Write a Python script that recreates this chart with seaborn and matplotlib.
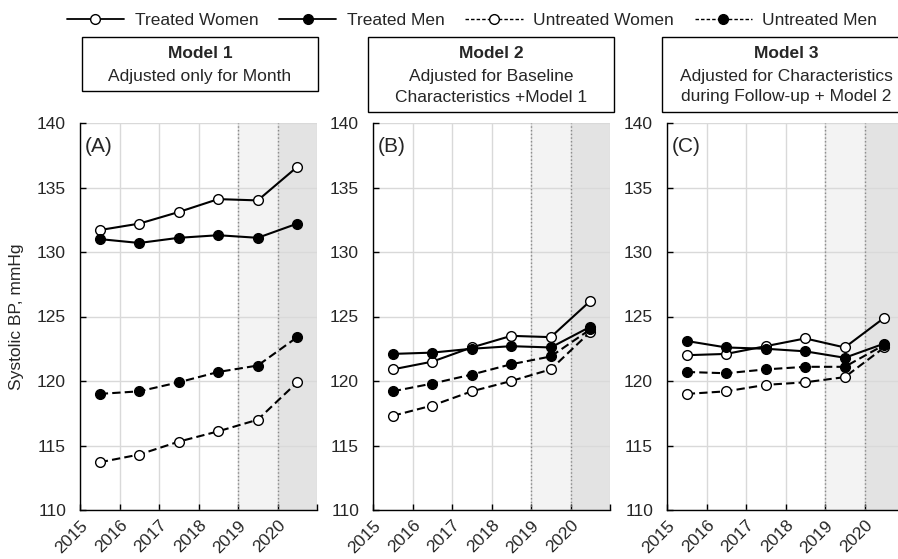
import matplotlib
matplotlib.use("Agg")
import matplotlib.pyplot as plt
from matplotlib.lines import Line2D
from matplotlib.patches import Rectangle
import seaborn as sns
import pandas as pd

# ---------------- data ----------------
x_mid = [2015.5, 2016.5, 2017.5, 2018.5, 2019.5, 2020.5]
year_ticks = [2015, 2016, 2017, 2018, 2019, 2020, 2021]
year_labels = ["2015", "2016", "2017", "2018", "2019", "2020", ""]

series_names = ["Treated Women", "Treated Men", "Untreated Women", "Untreated Men"]

m1_treated_women = [131.7, 132.2, 133.1, 134.1, 134.0, 136.6]
m1_treated_men = [131.0, 130.7, 131.1, 131.3, 131.1, 132.2]
m1_untreated_women = [113.7, 114.3, 115.3, 116.1, 117.0, 119.9]
m1_untreated_men = [119.0, 119.2, 119.9, 120.7, 121.2, 123.4]

m2_treated_women = [120.9, 121.5, 122.6, 123.5, 123.4, 126.2]
m2_treated_men = [122.1, 122.2, 122.5, 122.7, 122.6, 124.2]
m2_untreated_women = [117.3, 118.1, 119.2, 120.0, 120.9, 123.8]
m2_untreated_men = [119.2, 119.8, 120.5, 121.3, 121.9, 124.0]

m3_treated_women = [122.0, 122.1, 122.7, 123.3, 122.6, 124.9]
m3_treated_men = [123.1, 122.6, 122.5, 122.3, 121.8, 122.9]
m3_untreated_women = [119.0, 119.2, 119.7, 119.9, 120.3, 122.6]
m3_untreated_men = [120.7, 120.6, 120.9, 121.1, 121.1, 122.8]

panel_letters = ["(A)", "(B)", "(C)"]
box_titles = ["Model 1", "Model 2", "Model 3"]
box_subtitles = [
    "Adjusted only for Month",
    "Adjusted for Baseline\nCharacteristics +Model 1",
    "Adjusted for Characteristics\nduring Follow-up + Model 2",
]
y_label = "Systolic BP, mmHg"

models = [
    [m1_treated_women, m1_treated_men, m1_untreated_women, m1_untreated_men],
    [m2_treated_women, m2_treated_men, m2_untreated_women, m2_untreated_men],
    [m3_treated_women, m3_treated_men, m3_untreated_women, m3_untreated_men],
]

# ---------------- style ----------------
sns.set_style("white")
plt.rcParams["font.family"] = ["Liberation Sans", "DejaVu Sans"]
FS = 12.5

W, H = 898, 559
fig = plt.figure(figsize=(W / 100, H / 100), dpi=100)


def fx(px):
    return px / W


def fy(py):
    return 1 - py / H


axes_left_px = [80, 373, 667]
ax_w = 237 / W
ax_b = fy(510)
ax_h = (510 - 123) / H

face = {"Treated Women": "white", "Treated Men": "black",
        "Untreated Women": "white", "Untreated Men": "black"}
lstyle = {"Treated Women": "-", "Treated Men": "-",
          "Untreated Women": (0, (4, 2)), "Untreated Men": (0, (4, 2))}

for i, lp in enumerate(axes_left_px):
    ax = fig.add_axes([fx(lp), ax_b, ax_w, ax_h])
    ax.axvspan(2019, 2020, color="#f3f3f3", zorder=0, lw=0)
    ax.axvspan(2020, 2021, color="#e3e3e3", zorder=0, lw=0)
    ax.set_axisbelow(True)
    ax.grid(True, color="#d9d9d9", lw=1)
    for xv in (2019, 2020):
        ax.axvline(xv, color="#888888", ls=":", lw=1, zorder=1)
    for name, vals in zip(series_names, models[i]):
        df = pd.DataFrame({"x": x_mid, "y": vals})
        sns.lineplot(data=df, x="x", y="y", ax=ax, color="black",
                     linestyle=lstyle[name], lw=1.5, marker="o",
                     markersize=7, markerfacecolor=face[name],
                     markeredgecolor="black", markeredgewidth=1,
                     zorder=3)
    ax.set_xlim(2015, 2021)
    ax.set_ylim(110, 140)
    ax.set_xticks(year_ticks)
    ax.set_xticklabels(year_labels, rotation=45, ha="right",
                       rotation_mode="anchor", fontsize=FS)
    ax.set_yticks([110, 115, 120, 125, 130, 135, 140])
    ax.tick_params(axis="y", labelsize=FS, direction="in", length=4,
                   width=1, color="black", left=True, pad=10)
    ax.tick_params(axis="x", direction="in", length=4, width=1,
                   color="black", bottom=True, pad=5.5)
    for s in ("top", "right"):
        ax.spines[s].set_visible(False)
    for s in ("left", "bottom"):
        ax.spines[s].set_color("black")
        ax.spines[s].set_linewidth(1)
    ax.set_xlabel("")
    ax.set_ylabel("")
    ax.text(0.02, 0.965, panel_letters[i], transform=ax.transAxes,
            fontsize=15, ha="left", va="top")
    if i == 0:
        ax.set_ylabel(y_label, fontsize=FS)
        ax.yaxis.set_label_coords(-0.235, 0.5)

# ---------------- title boxes ----------------
boxes = [(82, 37, 318, 91), (368, 37, 614, 112), (662, 37, 915, 112)]
centers = [200, 491, 786]
for (x0, y0, x1, y1), cx, t, st in zip(boxes, centers, box_titles, box_subtitles):
    fig.patches.append(Rectangle((fx(x0), fy(y1)), fx(x1) - fx(x0),
                                 fy(y0) - fy(y1), transform=fig.transFigure,
                                 facecolor="white", edgecolor="black", lw=1))
    fig.text(fx(cx), fy(54), t, ha="center", va="center",
             fontsize=FS, fontweight="bold")
    fig.text(fx(cx), fy(68.5), st, ha="center", va="top", fontsize=FS,
             linespacing=1.5)

# ---------------- legend ----------------
handles = [
    Line2D([], [], color="black", lw=1.3, ls="-", marker="o", markersize=7,
           markerfacecolor="white", markeredgecolor="black"),
    Line2D([], [], color="black", lw=1.3, ls="-", marker="o", markersize=7,
           markerfacecolor="black", markeredgecolor="black"),
    Line2D([], [], color="black", lw=1, ls=(0, (2.5, 1.5)), marker="o",
           markersize=7, markerfacecolor="white", markeredgecolor="black"),
    Line2D([], [], color="black", lw=1, ls=(0, (2.5, 1.5)), marker="o",
           markersize=7, markerfacecolor="black", markeredgecolor="black"),
]
fig.legend(handles, series_names, loc="center", ncol=4, frameon=False,
           bbox_to_anchor=(fx(472), fy(20)), fontsize=FS, handlelength=3.3,
           handletextpad=0.6, columnspacing=1.2)

fig.savefig("out.png", dpi=100)
